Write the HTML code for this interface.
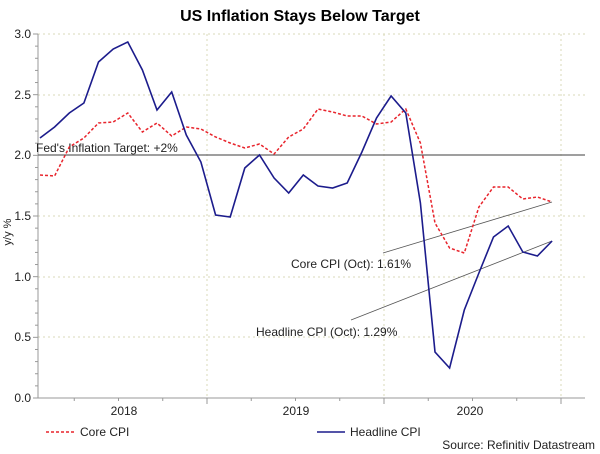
<!DOCTYPE html>
<html><head><style>
body{margin:0;background:#fff;}
svg{display:block;font-family:"Liberation Sans",Arial,sans-serif;}
</style></head><body>
<svg width="600" height="454" viewBox="0 0 600 454" xmlns="http://www.w3.org/2000/svg">
<rect width="600" height="454" fill="#fff"/>
<text x="300" y="21" text-anchor="middle" font-size="16" font-weight="bold" fill="#000">US Inflation Stays Below Target</text>
<g stroke="#d8d8b8" stroke-width="1" stroke-dasharray="2,3">
<line x1="38" y1="34" x2="585" y2="34"/><line x1="38" y1="95" x2="585" y2="95"/>
<line x1="38" y1="216" x2="585" y2="216"/><line x1="38" y1="277" x2="585" y2="277"/>
<line x1="38" y1="337" x2="585" y2="337"/>
<line x1="207" y1="34" x2="207" y2="398"/><line x1="384" y1="34" x2="384" y2="398"/><line x1="561" y1="34" x2="561" y2="398"/>
</g>
<g stroke="#999" stroke-width="1">
<line x1="38" y1="34" x2="38" y2="398"/><line x1="38" y1="398" x2="585" y2="398"/>
<g id="yt"></g>
</g>
<line x1="38" y1="155" x2="585" y2="155" stroke="#666" stroke-width="1.3"/>
<g font-size="12" fill="#222" text-anchor="end">
<text x="31" y="38">3.0</text><text x="31" y="99">2.5</text><text x="31" y="159">2.0</text>
<text x="31" y="220">1.5</text><text x="31" y="281">1.0</text><text x="31" y="341">0.5</text><text x="31" y="402">0.0</text>
</g>
<text transform="translate(11,232) rotate(-90)" font-size="11" fill="#222" text-anchor="middle">y/y %</text>
<g font-size="12" fill="#222" text-anchor="middle">
<text x="124" y="415">2018</text><text x="296" y="415">2019</text><text x="470" y="415">2020</text>
</g>
<text x="36" y="152" font-size="12" fill="#222">Fed's Inflation Target: +2%</text>
<g stroke="#555" stroke-width="0.8">
<line x1="383" y1="253" x2="552" y2="202"/>
<line x1="351" y1="320" x2="552" y2="241"/>
</g>
<text x="291" y="268" font-size="12" fill="#222">Core CPI (Oct): 1.61%</text>
<text x="256" y="336" font-size="12" fill="#222">Headline CPI (Oct): 1.29%</text>
<polyline id="core" fill="none" stroke="#e8242c" stroke-width="1.5" stroke-dasharray="3,2"/>
<polyline id="head" fill="none" stroke="#1c1c8c" stroke-width="1.6"/>
<line x1="46" y1="432" x2="76" y2="432" stroke="#e8242c" stroke-width="1.5" stroke-dasharray="3,2"/>
<text x="80" y="436" font-size="12" fill="#222">Core CPI</text>
<line x1="317" y1="432" x2="345" y2="432" stroke="#1c1c8c" stroke-width="1.6"/>
<text x="350" y="436" font-size="12" fill="#222">Headline CPI</text>
<text x="595" y="449" font-size="12" fill="#222" text-anchor="end">Source: Refinitiv Datastream</text>
<g stroke="#999" stroke-width="1" id="xt"></g>
</svg>
<script>
var core=[175,176,147,138,123,122,113,132,123,136,127,129,137,143,148,144,154,137,129,109,112,116,116,124,122,109,143,223,248,253,207,187,187,199,197,202];
var head=[138,127,113,103,62,49,42,70,110,92,135,162,215,217,168,155,178,193,175,186,188,183,152,118,96,113,203,352,368,310,273,237,226,252,256,241];
function pts(a){return a.map(function(y,i){return (40+i*14.63).toFixed(1)+","+y}).join(" ");}
document.getElementById("core").setAttribute("points",pts(core));
document.getElementById("head").setAttribute("points",pts(head));
var ns="http://www.w3.org/2000/svg",g=document.getElementById("yt");
for(var i=0;i<=30;i++){var y=398-i*12.133,l=document.createElementNS(ns,"line");l.setAttribute("x1",i%5?35:33);l.setAttribute("x2",38);l.setAttribute("y1",y);l.setAttribute("y2",y);g.appendChild(l);}
var gx=document.getElementById("xt");
for(var i=1;i<=12;i++){var x=30+i*44.25,l=document.createElementNS(ns,"line");l.setAttribute("x1",x);l.setAttribute("x2",x);l.setAttribute("y1",398);l.setAttribute("y2",i%4==0?404:401);gx.appendChild(l);}
</script>
</body></html>
